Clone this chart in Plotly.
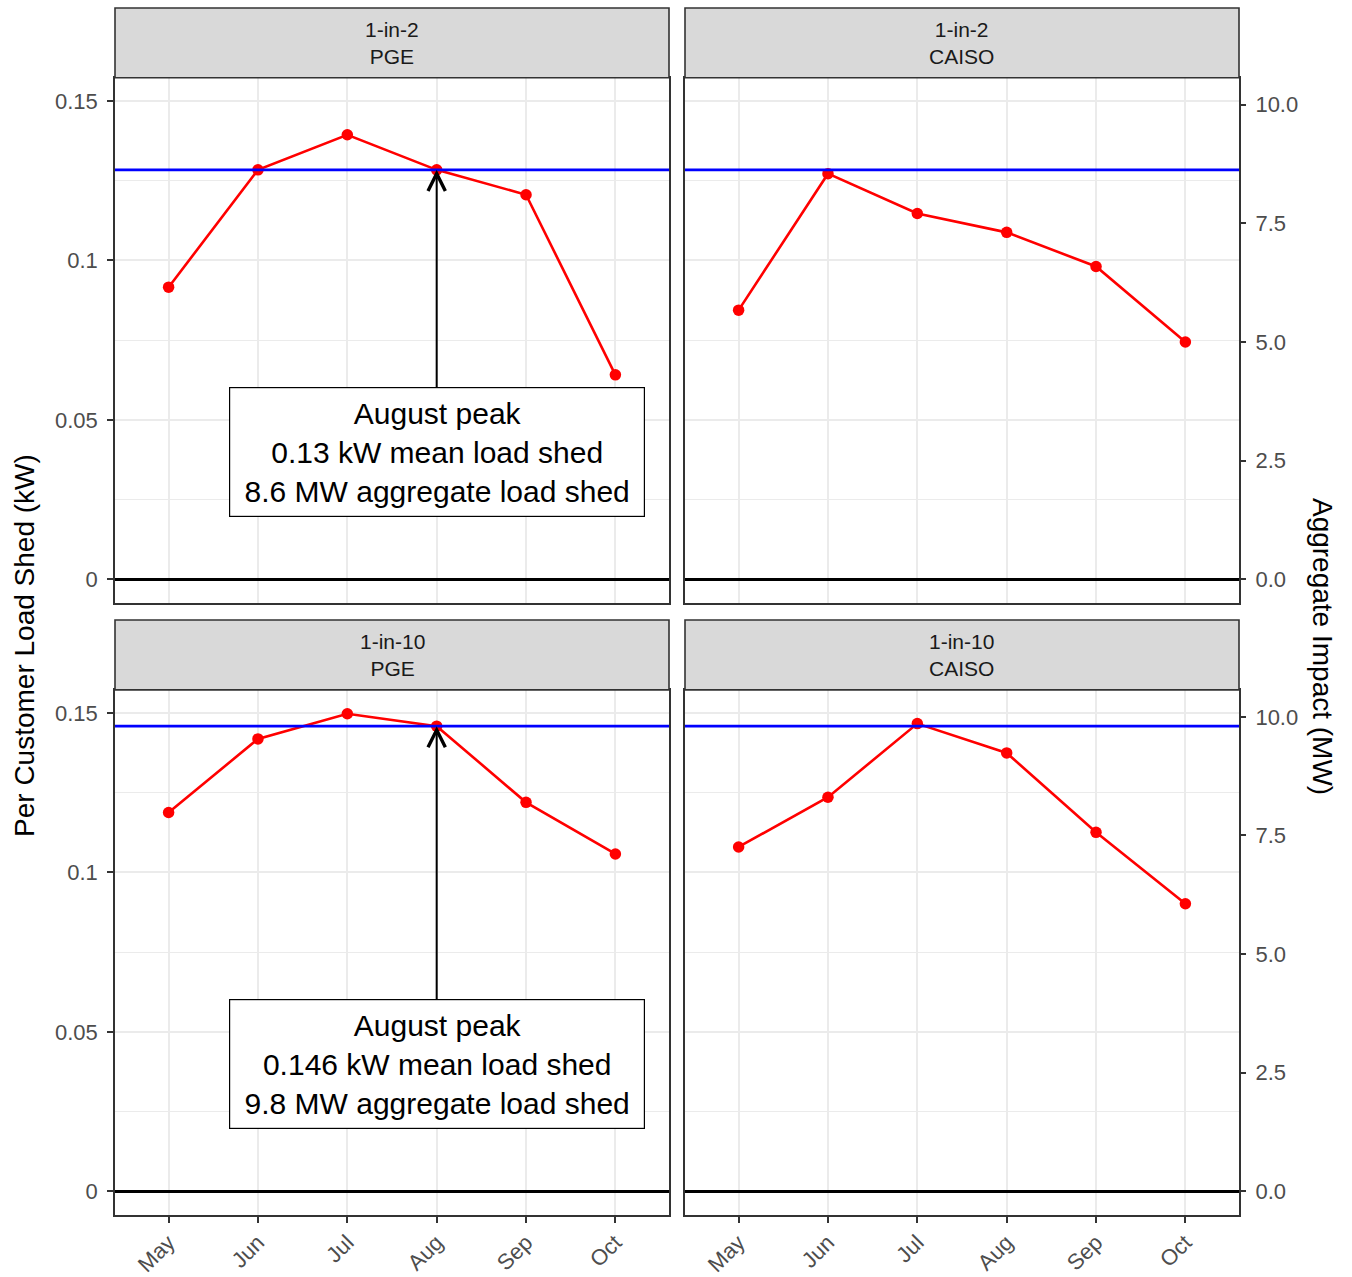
import plotly.graph_objects as go

# ---------------- data ----------------
months = ["May", "Jun", "Jul", "Aug", "Sep", "Oct"]
pge_1in2 = [0.0916, 0.1284, 0.1394, 0.1284, 0.1206, 0.0641]
caiso_1in2 = [0.0844, 0.1272, 0.1147, 0.1088, 0.0981, 0.0744]
pge_1in10 = [0.1188, 0.1419, 0.1498, 0.1459, 0.1220, 0.1058]
caiso_1in10 = [0.1080, 0.1236, 0.1467, 0.1375, 0.1126, 0.0902]

scenarios = ["1-in-2", "1-in-10"]
regions = ["PGE", "CAISO"]
peak_month = "Aug"
peak_kw_labels = ["0.13", "0.146"]
peak_mw_labels = ["8.6", "9.8"]
mw_per_kw = 67.2          # secondary-axis transform (kW per customer -> MW aggregate)
label_y = 0.04            # y position (kW) of the annotation label

left_ticks = [0, 0.05, 0.1, 0.15]
left_ticktext = ["0", "0.05", "0.1", "0.15"]
minor_ticks = [0.025, 0.075, 0.125]
right_ticks = [0, 2.5, 5, 7.5, 10]
right_ticktext = ["0.0", "2.5", "5.0", "7.5", "10.0"]

series = [[pge_1in2, caiso_1in2], [pge_1in10, caiso_1in10]]

# ---------------- geometry ----------------
W, H = 1352, 1277
cols = [(115, 669), (685, 1239)]
rows = [(78, 605), (692, 1219)]
strip_h = 70

all_vals = pge_1in2 + caiso_1in2 + pge_1in10 + caiso_1in10 + [0]
vmax, vmin = max(all_vals), min(all_vals)
pad = 0.05 * (vmax - vmin)
yrange = [vmin - pad, vmax + pad]
mw_range = [yrange[0] * mw_per_kw, yrange[1] * mw_per_kw]

GRID = "#EBEBEB"
FRAME = "#333333"
TICKTXT = "#4D4D4D"
FONT = "Liberation Sans, Arial, Helvetica, sans-serif"

fig = go.Figure()
layout = dict(
    width=W, height=H,
    margin=dict(l=0, r=0, t=0, b=0),
    paper_bgcolor="white", plot_bgcolor="white",
    showlegend=False,
    font=dict(family=FONT),
)
shapes = []
annotations = []

for r in range(2):
    for c in range(2):
        k = r * 2 + c
        sfx = "" if k == 0 else str(k + 1)
        xa, ya = "x" + sfx, "y" + sfx
        x0, x1 = cols[c]
        top, bot = rows[r]
        vals = series[r][c]

        layout["xaxis" + sfx] = dict(
            domain=[x0 / W, x1 / W], anchor=ya,
            type="category", categoryorder="array", categoryarray=months,
            range=[-0.6, len(months) - 0.4],
            showgrid=True, gridcolor=GRID, gridwidth=2,
            showline=True, mirror=True, linecolor=FRAME, linewidth=1.6,
            ticks="outside" if r == 1 else "", ticklen=6, tickwidth=2, tickcolor=FRAME,
            showticklabels=(r == 1), tickangle=-45, ticklabelstandoff=-2,
            tickfont=dict(size=22, color=TICKTXT, family=FONT),
            zeroline=False,
        )
        layout["yaxis" + sfx] = dict(
            domain=[1 - bot / H, 1 - top / H], anchor=xa,
            range=yrange,
            tickmode="array", tickvals=left_ticks, ticktext=left_ticktext,
            showgrid=True, gridcolor=GRID, gridwidth=2,
            minor=dict(tickmode="array", tickvals=minor_ticks, showgrid=True,
                       gridcolor=GRID, gridwidth=1, ticks=""),
            showline=True, mirror=True, linecolor=FRAME, linewidth=1.6,
            ticks="outside" if c == 0 else "", ticklen=6, tickwidth=2, tickcolor=FRAME,
            showticklabels=(c == 0), ticklabelstandoff=5,
            tickfont=dict(size=22, color=TICKTXT, family=FONT),
            zeroline=True, zerolinecolor="black", zerolinewidth=3,
        )

        fig.add_trace(go.Scatter(
            x=months, y=vals, mode="lines+markers",
            line=dict(color="#FF0000", width=2.6),
            marker=dict(color="#FF0000", size=11.5),
            xaxis=xa, yaxis=ya, hoverinfo="skip",
        ))

        # secondary (MW) axis on the right column
        if c == 1:
            sec = str(5 + r)
            layout["yaxis" + sec] = dict(
                overlaying=ya, anchor=xa, side="right",
                range=mw_range,
                tickmode="array", tickvals=right_ticks, ticktext=right_ticktext,
                showgrid=False, zeroline=False, showline=False,
                ticks="outside", ticklen=6, tickwidth=2, tickcolor=FRAME,
                ticklabelstandoff=5,
                tickfont=dict(size=22, color=TICKTXT, family=FONT),
            )
            fig.add_trace(go.Scatter(x=[], y=[], xaxis=xa, yaxis="y" + sec,
                                     showlegend=False, hoverinfo="skip"))

        # peak reference line (PGE August value of this row)
        peak_val = series[r][0][months.index(peak_month)]
        shapes.append(dict(type="line", xref=xa + " domain", yref=ya,
                           x0=0, x1=1, y0=peak_val, y1=peak_val,
                           line=dict(color="#0000FF", width=2.6), layer="above"))

        # facet strip
        sh = strip_h / (bot - top)
        shapes.append(dict(type="rect", xref=xa + " domain", yref=ya + " domain",
                           x0=0, x1=1, y0=1, y1=1 + sh,
                           fillcolor="#D9D9D9", line=dict(color=FRAME, width=1.6),
                           layer="above"))
        annotations.append(dict(
            xref=xa + " domain", yref=ya + " domain", x=0.5, y=1 + sh / 2,
            text=f"{scenarios[r]}<br>{regions[c]}", showarrow=False,
            font=dict(size=21, color="#1A1A1A", family=FONT),
            xanchor="center", yanchor="middle",
        ))

        # peak label with arrow (left column)
        if c == 0:
            annotations.append(dict(
                x=peak_month, y=peak_val, xref=xa, yref=ya,
                ax=0, axref="pixel", ay=label_y, ayref=ya,
                text=(f"August peak<br>{peak_kw_labels[r]} kW mean load shed"
                      f"<br>{peak_mw_labels[r]} MW aggregate load shed"),
                showarrow=True, arrowhead=5, arrowsize=1.7, arrowwidth=2,
                arrowcolor="black", standoff=0,
                bgcolor="white", bordercolor="black", borderwidth=1.2, borderpad=5,
                width=404, height=118, align="center",
                font=dict(size=30, color="black", family=FONT),
            ))

# axis titles
annotations.append(dict(
    xref="paper", yref="paper", x=25 / W, y=1 - 648 / H,
    text="Per Customer Load Shed (kW)", textangle=-90, showarrow=False,
    font=dict(size=28, color="black", family=FONT),
    xanchor="center", yanchor="middle",
))
annotations.append(dict(
    xref="paper", yref="paper", x=1322 / W, y=1 - 648 / H,
    text="Aggregate Impact (MW)", textangle=90, showarrow=False,
    font=dict(size=28, color="black", family=FONT),
    xanchor="center", yanchor="middle",
))

layout["shapes"] = shapes
layout["annotations"] = annotations
fig.update_layout(**layout)

fig.write_html("out.html", config={"displayModeBar": False},
               post_script="document.body.style.margin='0';")
